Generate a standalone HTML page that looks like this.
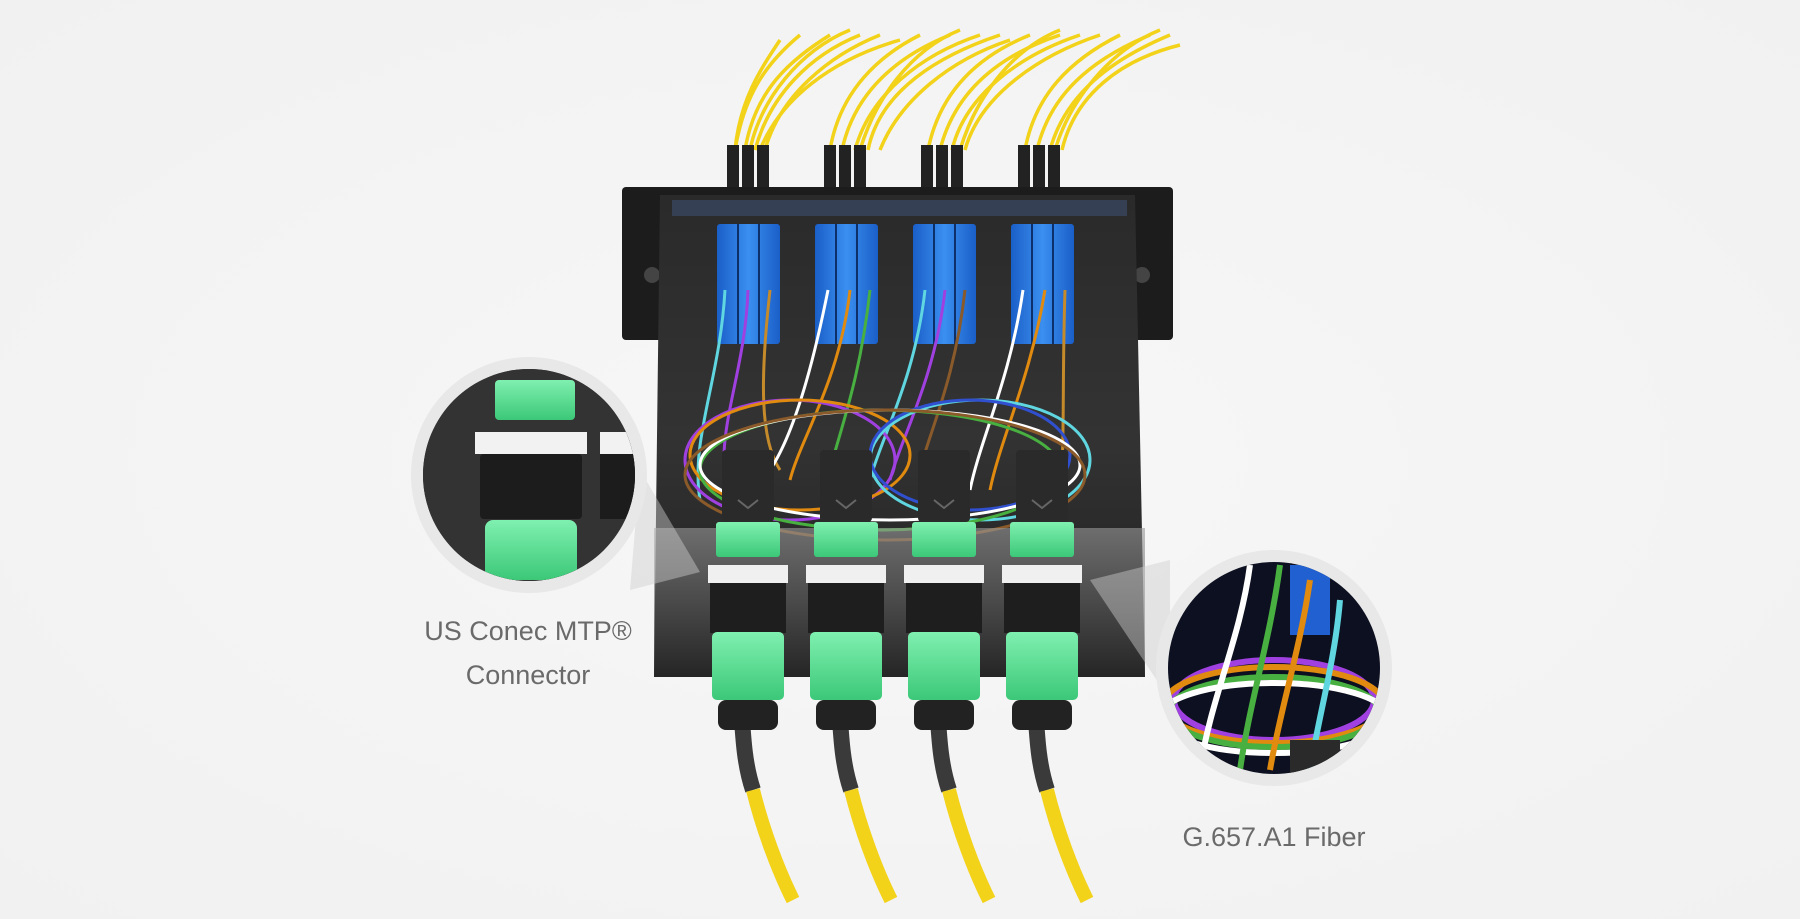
<!DOCTYPE html>
<html><head><meta charset="utf-8"><style>
html,body{margin:0;padding:0;width:1800px;height:919px;overflow:hidden;background:#f4f4f4}
svg{display:block}
text{font-family:"Liberation Sans",sans-serif;fill:#6a6a6a}
</style></head><body>
<svg width="1800" height="919" viewBox="0 0 1800 919" xmlns="http://www.w3.org/2000/svg">
<defs>
<radialGradient id="bg" cx="50%" cy="50%" r="70%"><stop offset="0" stop-color="#f7f7f7"/><stop offset="1" stop-color="#f1f1f1"/></radialGradient>
<linearGradient id="box" x1="0" y1="0" x2="0" y2="1"><stop offset="0" stop-color="#2a2a2a"/><stop offset="0.5" stop-color="#333"/><stop offset="1" stop-color="#1e1e1e"/></linearGradient>
<linearGradient id="front" x1="0" y1="0" x2="0" y2="1"><stop offset="0" stop-color="#9a9a9a"/><stop offset="1" stop-color="#2a2a2a"/></linearGradient>
<linearGradient id="blue" x1="0" y1="0" x2="1" y2="0"><stop offset="0" stop-color="#1a5fc8"/><stop offset="0.5" stop-color="#3a8ff0"/><stop offset="1" stop-color="#1a5fc8"/></linearGradient>
<linearGradient id="green" x1="0" y1="0" x2="0" y2="1"><stop offset="0" stop-color="#7ff0b0"/><stop offset="1" stop-color="#3cc878"/></linearGradient>
<clipPath id="cl"><circle cx="529" cy="475" r="106"/></clipPath>
<clipPath id="cr"><circle cx="1274" cy="668" r="106"/></clipPath>
</defs>
<rect width="1800" height="919" fill="url(#bg)"/>
<g stroke="#f3d21a" stroke-width="3.5" fill="none">
<path d="M735 150 C745 90 770 60 800 35"/><path d="M745 150 C755 90 790 60 830 35"/><path d="M755 150 C770 95 810 55 860 35"/>
<path d="M735 150 C740 100 760 70 780 40"/><path d="M765 150 C780 95 830 55 880 35"/>
<path d="M830 150 C840 90 880 55 920 35"/><path d="M842 150 C855 90 900 55 950 35"/><path d="M855 150 C870 95 920 55 980 35"/><path d="M868 150 C880 90 940 55 1000 35"/>
<path d="M928 150 C940 90 980 55 1030 35"/><path d="M940 150 C955 90 1000 55 1060 35"/><path d="M952 150 C965 95 1020 55 1080 35"/><path d="M965 150 C980 95 1040 55 1100 35"/>
<path d="M1025 150 C1035 95 1070 60 1120 35"/><path d="M1037 150 C1050 95 1090 60 1150 35"/><path d="M1050 150 C1065 95 1110 60 1170 35"/><path d="M1062 150 C1075 95 1120 60 1180 45"/>
<path d="M760 150 C780 100 830 60 900 40"/><path d="M880 150 C900 100 950 60 1010 40"/>
<path d="M750 150 C760 100 800 50 850 30"/><path d="M860 150 C875 100 910 50 960 30"/><path d="M960 150 C975 100 1010 50 1060 30"/><path d="M1055 150 C1070 100 1110 50 1160 30"/>
</g>
<g fill="#222">
<rect x="727" y="145" width="12" height="42"/><rect x="742" y="145" width="12" height="42"/><rect x="757" y="145" width="12" height="42"/>
<rect x="824" y="145" width="12" height="42"/><rect x="839" y="145" width="12" height="42"/><rect x="854" y="145" width="12" height="42"/>
<rect x="921" y="145" width="12" height="42"/><rect x="936" y="145" width="12" height="42"/><rect x="951" y="145" width="12" height="42"/>
<rect x="1018" y="145" width="12" height="42"/><rect x="1033" y="145" width="12" height="42"/><rect x="1048" y="145" width="12" height="42"/>
</g>
<rect x="622" y="187" width="551" height="153" rx="4" fill="#1c1c1c"/>
<circle cx="652" cy="275" r="8" fill="#444"/><circle cx="1142" cy="275" r="8" fill="#444"/>
<polygon points="660,195 1135,195 1145,677 654,677" fill="url(#box)"/>
<rect x="672" y="200" width="455" height="16" fill="#3b4a66" opacity="0.7"/>
<g fill="url(#blue)">
<rect x="717" y="224" width="63" height="120" rx="3"/><rect x="815" y="224" width="63" height="120" rx="3"/><rect x="913" y="224" width="63" height="120" rx="3"/><rect x="1011" y="224" width="63" height="120" rx="3"/>
</g>
<g fill="#0d2f6a">
<rect x="737" y="224" width="2" height="120"/><rect x="758" y="224" width="2" height="120"/><rect x="835" y="224" width="2" height="120"/><rect x="856" y="224" width="2" height="120"/>
<rect x="933" y="224" width="2" height="120"/><rect x="954" y="224" width="2" height="120"/><rect x="1031" y="224" width="2" height="120"/><rect x="1052" y="224" width="2" height="120"/>
</g>
<g fill="none" stroke-width="3">
<path d="M725 290 C720 380 690 440 700 500" stroke="#5fd6e0"/><path d="M748 290 C745 380 710 440 730 500" stroke="#a040e0"/>
<path d="M770 290 C760 380 760 440 780 470" stroke="#c58a2a"/><path d="M828 290 C810 380 790 440 770 470" stroke="#ffffff"/>
<path d="M850 290 C840 380 800 440 790 480" stroke="#e08a10"/><path d="M870 290 C860 380 840 430 830 470" stroke="#48b040"/>
<path d="M925 290 C915 380 880 440 870 480" stroke="#5fd6e0"/><path d="M945 290 C935 380 900 440 890 480" stroke="#a040e0"/>
<path d="M965 290 C955 380 930 430 920 470" stroke="#8a5a2a"/><path d="M1023 290 C1010 380 980 440 970 490" stroke="#ffffff"/>
<path d="M1045 290 C1030 380 1000 440 990 490" stroke="#e08a10"/><path d="M1065 290 C1062 380 1065 440 1060 500" stroke="#c58a2a"/>
<ellipse cx="790" cy="460" rx="105" ry="60" stroke="#a040e0"/><ellipse cx="800" cy="455" rx="110" ry="55" stroke="#e08a10"/>
<ellipse cx="980" cy="460" rx="110" ry="60" stroke="#5fd6e0"/><ellipse cx="970" cy="455" rx="100" ry="55" stroke="#3050d0"/>
<ellipse cx="880" cy="470" rx="180" ry="60" stroke="#48b040"/><ellipse cx="890" cy="465" rx="190" ry="55" stroke="#ffffff"/>
<ellipse cx="885" cy="475" rx="200" ry="65" stroke="#8a5a2a"/>
</g>
<polygon points="654,528 1145,528 1145,677 654,677" fill="url(#front)" opacity="0.6"/>
<g id="mtps">
<g transform="translate(748,0)">
<path d="M-8 690 C-5 730 -5 760 5 790" stroke="#3a3a3a" stroke-width="16" fill="none"/>
<path d="M5 790 C15 830 30 870 45 900" stroke="#f3d21a" stroke-width="14" fill="none"/>
<rect x="-26" y="450" width="52" height="72" rx="4" fill="#2a2a2a"/>
<path d="M-10 500 L0 508 L10 500" stroke="#666" stroke-width="2" fill="none"/>
<rect x="-32" y="522" width="64" height="35" rx="3" fill="url(#green)"/>
<rect x="-40" y="565" width="80" height="18" fill="#f0f0f0"/>
<rect x="-38" y="583" width="76" height="50" fill="#1e1e1e"/>
<rect x="-36" y="632" width="72" height="68" rx="5" fill="url(#green)"/>
<rect x="-30" y="700" width="60" height="30" rx="8" fill="#222"/>
</g>
</g>
<g transform="translate(98,0)"><use href="#mtps"/></g>
<g transform="translate(196,0)"><use href="#mtps"/></g>
<g transform="translate(294,0)"><use href="#mtps"/></g>
<polygon points="640,470 700,572 630,590" fill="#cfcfcf" opacity="0.45"/>
<circle cx="529" cy="475" r="118" fill="#e8e8e8"/>
<circle cx="529" cy="475" r="106" fill="#2b2b2b"/>
<g clip-path="url(#cl)">
<rect x="423" y="369" width="212" height="212" fill="#333"/>
<rect x="495" y="380" width="80" height="40" rx="4" fill="url(#green)"/>
<rect x="475" y="432" width="112" height="22" fill="#f2f2f2"/>
<rect x="480" y="454" width="102" height="65" rx="4" fill="#1c1c1c"/>
<rect x="485" y="520" width="92" height="60" rx="8" fill="url(#green)"/>
<rect x="600" y="432" width="40" height="22" fill="#f2f2f2"/>
<rect x="600" y="454" width="40" height="65" fill="#1c1c1c"/>
</g>
<text x="528" y="640" font-size="27" text-anchor="middle">US Conec MTP®</text>
<text x="528" y="684" font-size="27" text-anchor="middle">Connector</text>
<polygon points="1090,580 1170,560 1170,700" fill="#cfcfcf" opacity="0.45"/>
<circle cx="1274" cy="668" r="118" fill="#e8e8e8"/>
<circle cx="1274" cy="668" r="106" fill="#0d1020"/>
<g clip-path="url(#cr)" fill="none" stroke-width="6">
<rect x="1290" y="565" width="40" height="70" fill="#2060d0" stroke="none"/>
<ellipse cx="1274" cy="700" rx="100" ry="40" stroke="#a040e0"/>
<ellipse cx="1274" cy="705" rx="110" ry="38" stroke="#e08a10"/>
<ellipse cx="1274" cy="712" rx="105" ry="35" stroke="#48b040"/>
<ellipse cx="1274" cy="718" rx="115" ry="35" stroke="#ffffff"/>
<path d="M1250 565 C1240 640 1210 700 1200 770" stroke="#ffffff"/>
<path d="M1280 565 C1270 640 1250 700 1240 770" stroke="#48b040"/>
<path d="M1310 580 C1300 650 1280 710 1270 770" stroke="#e08a10"/>
<path d="M1340 600 C1335 660 1320 710 1310 770" stroke="#5fd6e0"/>
<rect x="1290" y="740" width="50" height="40" fill="#2a2a2a" stroke="none"/>
</g>
<text x="1274" y="846" font-size="27" text-anchor="middle">G.657.A1 Fiber</text>
</svg>
</body></html>
